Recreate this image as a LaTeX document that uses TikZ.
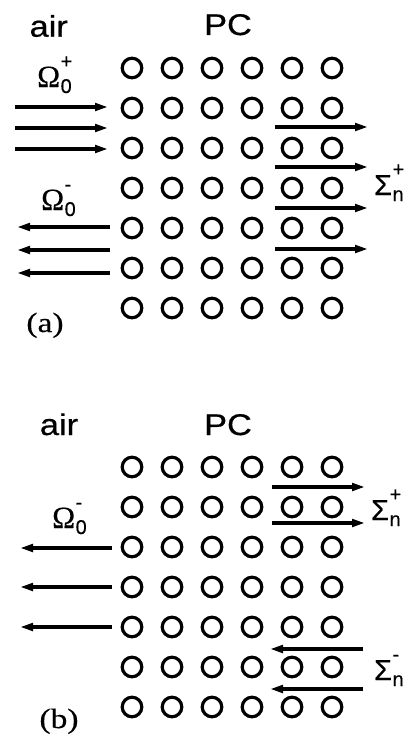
\documentclass[tikz,border=0pt]{standalone}
\usepackage{fontspec}
\setmainfont{Liberation Serif}
\newfontfamily\widesans[FakeStretch=1.15,FakeBold=0.6]{Liberation Sans}
\newfontfamily\plainsans[FakeBold=0.4]{Liberation Sans}
\newfontfamily\wideserif[FakeStretch=1.2,FakeBold=0.4]{Liberation Serif}
\newfontfamily\omegaserif[FakeBold=0.5]{Liberation Serif}
\usetikzlibrary{arrows.meta}
% base letter with stacked sub- and superscript
\newcommand\modelab[3]{#1\kern0.5bp\rlap{\raisebox{-6bp}{\fontsize{20}{20}\selectfont\plainsans #2}}\raisebox{19bp}{\fontsize{20}{20}\selectfont\plainsans #3}}
\tikzset{
  hole/.style={line width=3.2bp},
  beam/.style={line width=3.2bp, -{Triangle[length=13bp,width=7.5bp]}},
  region/.style={font=\fontsize{30}{31}\selectfont\widesans, inner sep=0pt, anchor=base},
  panel/.style={font=\fontsize{28}{29}\selectfont\wideserif, inner sep=0pt, anchor=base},
  omegalab/.style={font=\fontsize{31}{31}\selectfont\omegaserif, inner sep=0pt, anchor=base west},
  sigmalab/.style={font=\fontsize{29}{29}\selectfont\plainsans, inner sep=0pt, anchor=base west}
}
\begin{document}
\begin{tikzpicture}[x=1bp, y=-1bp]
  \useasboundingbox (0,0) rectangle (409,741);
  % photonic crystal rods, both panels
  \foreach \top in {68,467}
    \foreach \i in {0,...,5}
      \foreach \j in {0,...,6} \draw[hole] (132+40*\i,\top+40*\j) circle (9.8bp);
  % panel (a)
  \node[region] (aira) at (48.7,36.7) {air};
  \node[region] (pca) at (228,35) {PC};
  \node[omegalab] (omegainc) at (37,87) {\modelab{Ω}{0}{+}};
  \node[omegalab] (omegarefa) at (41,210) {\modelab{Ω}{0}{-}};
  \node[sigmalab] (sigmaa) at (374,195) {\modelab{Σ}{n}{+}};
  \node[panel] (laba) at (45,332) {(a)};
  \foreach \y in {107,128,149} \draw[beam] (15,\y) -- (108,\y);
  \foreach \y in {227,250,273} \draw[beam] (110,\y) -- (17,\y);
  \foreach \y in {127,167,208,249} \draw[beam] (275,\y) -- (368,\y);
  % panel (b)
  \node[region] (airb) at (59,435) {air};
  \node[region] (pcb) at (228,435) {PC};
  \node[omegalab] (omegarefb) at (52,528) {\modelab{Ω}{0}{-}};
  \node[sigmalab] (sigmab) at (371,520) {\modelab{Σ}{n}{+}};
  \node[sigmalab] (sigmabb) at (374,680) {\modelab{Σ}{n}{-}};
  \node[panel] (labb) at (59,728) {(b)};
  \foreach \y in {548,587,627} \draw[beam] (112,\y) -- (20,\y);
  \foreach \y in {487,523} \draw[beam] (272,\y) -- (365,\y);
  \foreach \y in {649,689} \draw[beam] (363,\y) -- (270,\y);
\end{tikzpicture}
\end{document}
